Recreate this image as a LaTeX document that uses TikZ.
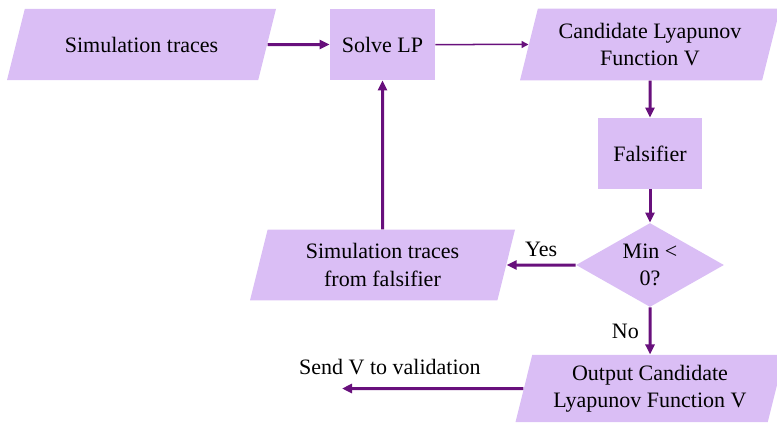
\documentclass[tikz,border=0pt]{standalone}
\usepackage{fontspec}
\setmainfont{Liberation Serif}
\usetikzlibrary{shapes.geometric,arrows.meta,positioning}

\definecolor{boxfill}{RGB}{218,190,245}
\definecolor{flowline}{RGB}{104,16,124}

\tikzset{
  base/.style={fill=boxfill, draw=none, align=center, inner sep=2pt},
  proc/.style={base, rectangle, minimum width=52.5pt, minimum height=35.5pt},
  data/.style={base, trapezium, trapezium left angle=76, trapezium right angle=104,
    trapezium stretches body, minimum width=134.5pt, inner ysep=7.2pt},
  test/.style={base, diamond, aspect=1.76, inner sep=0pt, minimum width=74pt, minimum height=42pt},
  flow/.style={->, draw=flowline, line width=1.5pt},
  thinflow/.style={-{Triangle[length=3.5pt,width=3.5pt]}, draw=flowline, line width=0.75pt}
}

\begin{document}
\begin{tikzpicture}[%
>={Triangle[length=5pt,width=4.5pt]},
on grid,
font=\fontsize{11}{13.6}\selectfont
]
\useasboundingbox (0,0) rectangle (388.5pt,-211.5pt);

\node[data, inner ysep=14pt] (sim) at (70.75pt,-22.25pt) {Simulation traces};
\node[proc] (solve) [right=120.5pt of sim] {Solve LP};
\node[data, minimum width=130pt] (cand) [right=133.75pt of solve] {Candidate Lyapunov\\Function V};

\node[proc, minimum width=52pt] (fals) [below=54.5pt of cand] {Falsifier};
\node[test] (dec) [below=55.75pt of fals] {Min \textless\\0?};

\node[data, minimum width=132.5pt, inner ysep=7pt] (simf) [left=133.75pt of dec] {Simulation traces\\from falsifier};
\node[data, inner ysep=5pt] (out) [below=61.75pt of dec] {Output Candidate\\Lyapunov Function V};
\coordinate[left=154pt of out] (send);

% main loop
\path (sim) edge [flow] (solve);
\path (solve) edge [thinflow] (cand);
\path (cand) edge [flow] (fals);
\path (fals) edge [flow] (dec);

% decision
\path (dec) edge [flow] node[above] {Yes} (simf);
\path (simf) edge [flow] (solve);
\path (dec) edge [flow] node[left=1.5pt] {No} (out);
\path (out) edge [flow] node[pos=0.736, above=3pt] {Send V to validation} (send);
\end{tikzpicture}
\end{document}
